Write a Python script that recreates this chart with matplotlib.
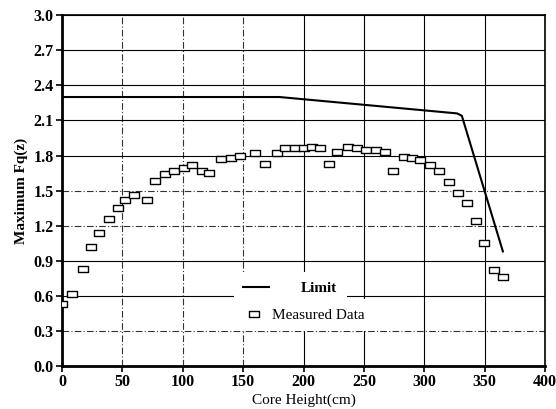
import matplotlib
matplotlib.use("Agg")
import matplotlib.pyplot as plt
from matplotlib.path import Path

# Limit curve
limit_x = [0, 180, 327, 331, 365]
limit_y = [2.30, 2.30, 2.16, 2.14, 0.98]

# Measured data
meas_x = [0, 8, 17, 24, 31, 39, 46, 52, 60, 70, 77, 85, 93, 101, 108, 116, 122,
          132, 140, 147, 160, 168, 178, 185, 193, 200, 207, 214, 221, 228, 237,
          244, 252, 260, 267, 274, 283, 290, 296, 305, 312, 320, 328, 335, 343,
          349, 358, 365]
meas_y = [0.53, 0.62, 0.83, 1.02, 1.14, 1.26, 1.35, 1.42, 1.46, 1.42, 1.58, 1.64,
          1.67, 1.69, 1.72, 1.67, 1.65, 1.77, 1.78, 1.80, 1.82, 1.73, 1.82, 1.86,
          1.86, 1.86, 1.87, 1.86, 1.73, 1.83, 1.87, 1.86, 1.85, 1.85, 1.83, 1.67,
          1.79, 1.78, 1.76, 1.72, 1.67, 1.57, 1.48, 1.39, 1.24, 1.05, 0.82, 0.76]

xticks = [0, 50, 100, 150, 200, 250, 300, 350, 400]
yticks = [0.0, 0.3, 0.6, 0.9, 1.2, 1.5, 1.8, 2.1, 2.4, 2.7, 3.0]

plt.rcParams["font.family"] = ["Liberation Serif", "DejaVu Serif"]

# flat rectangle marker, like the scanned original
rect = Path([(-1.3, -0.85), (1.3, -0.85), (1.3, 0.85), (-1.3, 0.85), (-1.3, -0.85)],
            [Path.MOVETO, Path.LINETO, Path.LINETO, Path.LINETO, Path.CLOSEPOLY])

fig = plt.figure(figsize=(5.56, 4.09), dpi=100)
ax = fig.add_axes([0.1115, 0.105, 0.869, 0.858])

line, = ax.plot(limit_x, limit_y, color="black", lw=1.5, zorder=3)
pts, = ax.plot(meas_x, meas_y, ls="none", marker=rect, ms=7, mfc="white",
               mec="black", mew=1.0, zorder=4)

ax.set_xlim(0, 400)
ax.set_ylim(0, 3.0)
ax.set_xticks(xticks)
ax.set_yticks(yticks)
ax.set_yticklabels([f"{v:.1f}" for v in yticks])

ax.grid(True, color="black", lw=0.8)
dashed_rows = [0.3, 1.2, 1.5]
for v, gl in zip(yticks, ax.yaxis.get_gridlines()):
    if v in dashed_rows:
        gl.set_linestyle((0, (6, 2, 1, 2)))
        gl.set_color("#333333")
for v, gl in zip(xticks, ax.xaxis.get_gridlines()):
    if v <= 150:
        gl.set_linestyle((0, (6, 2, 1, 2)))
        gl.set_color("#333333")
ax.set_axisbelow(True)

for s in ["left", "bottom"]:
    ax.spines[s].set_linewidth(2.0)
for s in ["top", "right"]:
    ax.spines[s].set_linewidth(1.2)

ax.tick_params(direction="out", length=4, width=1.2, labelsize=11.5, pad=2)
for lab in ax.get_xticklabels() + ax.get_yticklabels():
    lab.set_fontweight("bold")

ax.set_xlabel("Core Height(cm)", fontsize=11, labelpad=2)
ax.set_ylabel("Maximum Fq(z)", fontsize=11, fontweight="bold", labelpad=4)

leg1 = ax.legend([line], ["Limit"], loc="center left",
                 bbox_to_anchor=(0.34, 0.222), frameon=True, edgecolor="none",
                 facecolor="white", framealpha=1, handlelength=1.7,
                 handletextpad=2.1, borderpad=0.6, prop={"weight": "bold", "size": 11})
ax.add_artist(leg1)
ax.legend([pts], ["Measured Data"], loc="center left",
          bbox_to_anchor=(0.34, 0.145), frameon=True, edgecolor="none",
          facecolor="white", framealpha=1, handlelength=1.4,
          handletextpad=0.5, borderpad=0.6, prop={"size": 11})

fig.savefig("out.png", dpi=100)
